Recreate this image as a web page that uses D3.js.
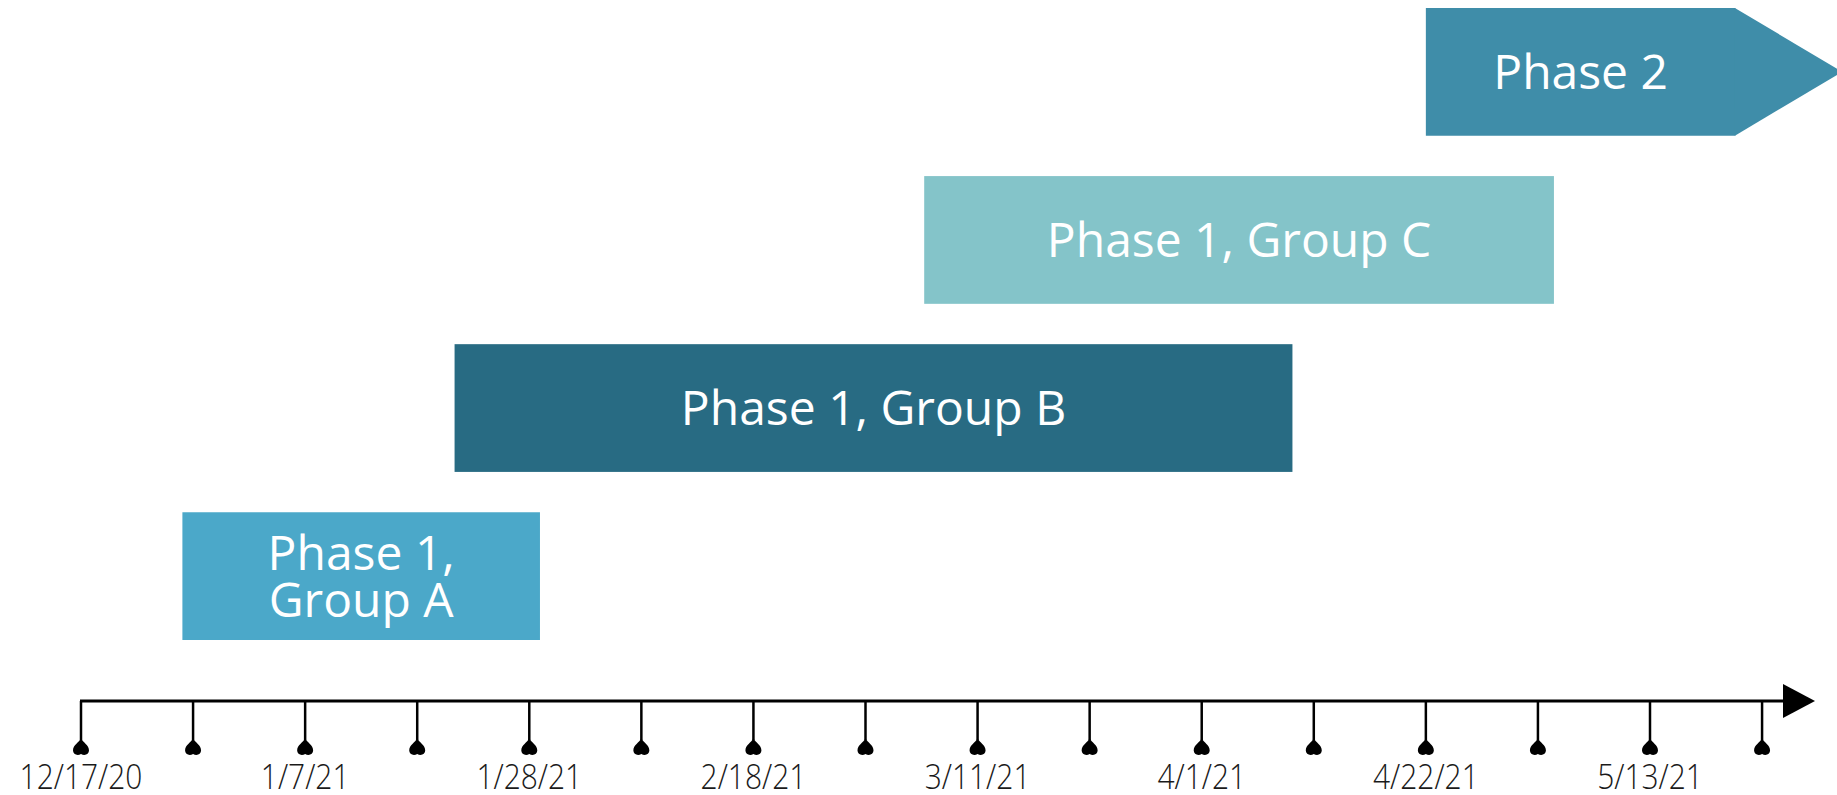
<!DOCTYPE html>
<html>
<head>
<meta charset="utf-8">
<script src="https://cdn.jsdelivr.net/npm/d3@7"></script>
<style>
  html, body { margin: 0; padding: 0; background: #ffffff; }
  svg { display: block; }
</style>
</head>
<body>
<svg id="chart" width="1837" height="795"></svg>
<script>
// ---- data ----
const phaseNames = ["Phase 2", "Phase 1, Group C", "Phase 1, Group B", "Phase 1, Group A"];
const phaseLines = [["Phase 2"], ["Phase 1, Group C"], ["Phase 1, Group B"], ["Phase 1,", "Group A"]];
const phaseStarts = ["2021-04-22", "2021-03-06", "2021-01-21", "2020-12-26T12:00"];
const phaseEnds   = ["2021-05-21", "2021-05-04", "2021-04-09T12:00", "2021-01-29"];
const phaseArrowTips = ["2021-05-31", null, null, null];
const phaseColors = ["#3f8da9", "#84c4c9", "#286b83", "#4ba8c9"];
const tickLabels = ["12/17/20", "1/7/21", "1/28/21", "2/18/21", "3/11/21", "4/1/21", "4/22/21", "5/13/21"];

// ---- setup ----
const W = 1837, H = 795;
const svg = d3.select("#chart");
const parse = s => d3.isoParse(s.length === 10 ? s + "T00:00" : s);
const parseLabel = d3.timeParse("%m/%d/%y");
const labelDates = tickLabels.map(parseLabel);

const x = d3.scaleTime()
  .domain([labelDates[0], labelDates[labelDates.length - 1]])
  .range([81, 1650]);

const y = d3.scaleBand()
  .domain(phaseNames)
  .range([8, 640])
  .paddingInner(0.24)
  .paddingOuter(0);

const axisY = 701;

// ---- bars ----
const rows = phaseNames.map((n, i) => ({
  name: n, lines: phaseLines[i],
  start: parse(phaseStarts[i]), end: parse(phaseEnds[i]),
  tip: phaseArrowTips[i] ? parse(phaseArrowTips[i]) : null,
  color: phaseColors[i]
}));

const g = svg.append("g");
rows.forEach(d => {
  const x0 = x(d.start), x1 = x(d.end), y0 = y(d.name), bh = y.bandwidth();
  g.append("rect")
    .attr("x", x0).attr("y", y0)
    .attr("width", x1 - x0).attr("height", bh)
    .attr("fill", d.color);
  if (d.tip) {
    const xt = x(d.tip);
    g.append("path")
      .attr("d", `M${x1 - 0.5},${y0}L${xt},${y0 + bh / 2}L${x1 - 0.5},${y0 + bh}Z`)
      .attr("fill", d.color);
  }
  const cx = (x0 + x1) / 2, cy = y0 + bh / 2;
  const lh = 47, n = d.lines.length;
  d.lines.forEach((t, k) => {
    g.append("text")
      .attr("x", cx)
      .attr("y", cy + (k - (n - 1) / 2) * lh)
      .attr("dy", "0.36em")
      .attr("text-anchor", "middle")
      .attr("font-family", "'Open Sans', 'Noto Sans', sans-serif")
      .attr("font-size", 48)
      .attr("fill", "#ffffff")
      .text(t);
  });
});

// ---- axis ----
const half = (labelDates[1] - labelDates[0]) / 2;
const allTicks = [];
labelDates.forEach((d, i) => {
  allTicks.push({ date: d, label: tickLabels[i] });
  allTicks.push({ date: new Date(+d + half), label: "" });
});

const ax = svg.append("g");
ax.append("line")
  .attr("x1", x(labelDates[0]) - 1).attr("x2", 1790)
  .attr("y1", axisY).attr("y2", axisY)
  .attr("stroke", "#000").attr("stroke-width", 3);
ax.append("path")
  .attr("d", `M1783,${axisY - 17}L1815,${axisY}L1783,${axisY + 17}Z`)
  .attr("fill", "#000");

const drop = "M0,-9 C2,-4 8,-2.5 8,3.5 C8,7.5 3.5,9 0,7 C-3.5,9 -8,7.5 -8,3.5 C-8,-2.5 -2,-4 0,-9 Z";
const tk = ax.selectAll("g.tick").data(allTicks).join("g")
  .attr("class", "tick")
  .attr("transform", d => `translate(${x(d.date)},0)`);
tk.append("line")
  .attr("y1", axisY).attr("y2", 740)
  .attr("stroke", "#000").attr("stroke-width", 2.5);
tk.append("path")
  .attr("d", drop)
  .attr("transform", "translate(0,747)")
  .attr("fill", "#000");
tk.filter(d => d.label).append("text")
  .attr("transform", "translate(0,789) scale(0.88,1)")
  .attr("text-anchor", "middle")
  .attr("font-family", "'Open Sans', 'Noto Sans', sans-serif")
  .attr("font-weight", 300)
  .attr("font-size", 34)
  .attr("fill", "#1a1a1a")
  .text(d => d.label);
</script>
</body>
</html>
